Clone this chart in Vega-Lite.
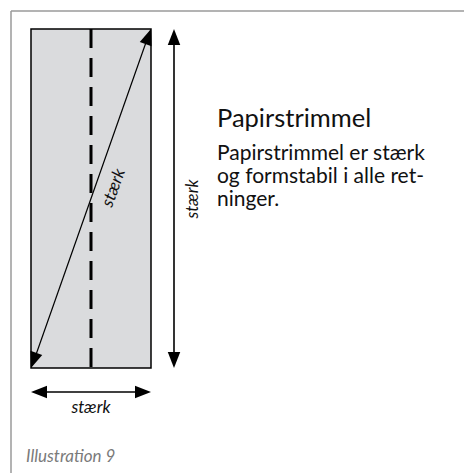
{
  "$schema": "https://vega.github.io/schema/vega-lite/v6.json",
  "width": 464,
  "height": 473,
  "padding": 0,
  "autosize": {"type": "none"},
  "background": "white",
  "config": {"view": {"stroke": null}},
  "datasets": {
    "frame": [
      {"x": 11, "y": 11, "x2": 464, "y2": 11},
      {"x": 11, "y": 11, "x2": 11, "y2": 473}
    ],
    "strip": [{"x": 31, "y": 29, "x2": 151, "y2": 368}],
    "fold": [{"x": 91, "y": 29, "x2": 91, "y2": 368}],
    "shafts": [
      {"x": 32, "y": 366, "x2": 150, "y2": 31, "w": "thin"},
      {"x": 174, "y": 40, "x2": 174, "y2": 357, "w": "thick"},
      {"x": 42, "y": 392, "x2": 140, "y2": 392, "w": "thick"}
    ],
    "heads": [
      {"x": 151, "y": 29, "dir": "diag-up"},
      {"x": 31, "y": 368, "dir": "diag-down"},
      {"x": 174, "y": 29, "dir": "up"},
      {"x": 174, "y": 368, "dir": "down"},
      {"x": 31, "y": 392, "dir": "left"},
      {"x": 151, "y": 392, "dir": "right"}
    ],
    "heading": [{"x": 217, "y": 127, "text": "Papirstrimmel"}],
    "body": [
      {"x": 217, "y": 160, "text": "Papirstrimmel er stærk"},
      {"x": 217, "y": 183, "text": "og formstabil i alle ret-"},
      {"x": 217, "y": 206, "text": "ninger."}
    ],
    "labels": [
      {"x": 118.5, "y": 189.5, "text": "stærk", "dir": "diag"},
      {"x": 198, "y": 199, "text": "stærk", "dir": "vert"},
      {"x": 91, "y": 413, "text": "stærk", "dir": "horiz"}
    ],
    "caption": [{"x": 26, "y": 461.5, "text": "Illustration 9"}]
  },
  "encoding": {
    "x": {"field": "x", "type": "quantitative", "scale": {"domain": [0, 464], "nice": false, "zero": false}, "axis": null},
    "y": {"field": "y", "type": "quantitative", "scale": {"domain": [0, 473], "nice": false, "zero": false, "reverse": true}, "axis": null}
  },
  "layer": [
    {
      "data": {"name": "frame"},
      "mark": {"type": "rule", "color": "#9a9a9a", "strokeWidth": 1.5},
      "encoding": {"x2": {"field": "x2"}, "y2": {"field": "y2"}}
    },
    {
      "data": {"name": "strip"},
      "mark": {"type": "rect", "fill": "#dadbdd", "stroke": "#000000", "strokeWidth": 1.5},
      "encoding": {"x2": {"field": "x2"}, "y2": {"field": "y2"}}
    },
    {
      "data": {"name": "fold"},
      "mark": {"type": "rule", "color": "#000000", "strokeWidth": 3, "strokeDash": [19, 10]},
      "encoding": {"x2": {"field": "x2"}, "y2": {"field": "y2"}}
    },
    {
      "data": {"name": "shafts"},
      "mark": {"type": "rule", "color": "#000000"},
      "encoding": {
        "x2": {"field": "x2"},
        "y2": {"field": "y2"},
        "strokeWidth": {"field": "w", "type": "nominal", "scale": {"type": "ordinal", "domain": ["thin", "thick"], "range": [1.2, 1.6]}, "legend": null}
      }
    },
    {
      "data": {"name": "heads"},
      "mark": {"type": "point", "shape": "M0,0L-0.39,1L0.39,1Z", "filled": true, "color": "#000000", "opacity": 1, "size": 1024, "strokeWidth": 0},
      "encoding": {
        "angle": {"field": "dir", "type": "nominal", "scale": {"type": "ordinal", "domain": ["up", "right", "down", "left", "diag-up", "diag-down"], "range": [0, 90, 180, 270, 19.5, 199.5]}, "legend": null}
      }
    },
    {
      "data": {"name": "heading"},
      "mark": {"type": "text", "font": "Lato", "fontSize": 25.5, "align": "left", "baseline": "alphabetic", "color": "#111111"},
      "encoding": {"text": {"field": "text"}}
    },
    {
      "data": {"name": "body"},
      "mark": {"type": "text", "font": "Lato", "fontSize": 21, "align": "left", "baseline": "alphabetic", "color": "#111111"},
      "encoding": {"text": {"field": "text"}}
    },
    {
      "data": {"name": "labels"},
      "transform": [{"filter": "datum.dir === 'horiz'"}],
      "mark": {"type": "text", "font": "Lato", "fontSize": 17, "fontStyle": "italic", "align": "center", "baseline": "alphabetic", "color": "#111111", "angle": 0},
      "encoding": {"text": {"field": "text"}}
    },
    {
      "data": {"name": "labels"},
      "transform": [{"filter": "datum.dir === 'vert'"}],
      "mark": {"type": "text", "font": "Lato", "fontSize": 17, "fontStyle": "italic", "align": "center", "baseline": "alphabetic", "color": "#111111", "angle": 270},
      "encoding": {"text": {"field": "text"}}
    },
    {
      "data": {"name": "labels"},
      "transform": [{"filter": "datum.dir === 'diag'"}],
      "mark": {"type": "text", "font": "Lato", "fontSize": 17, "fontStyle": "italic", "align": "center", "baseline": "alphabetic", "color": "#111111", "angle": 290},
      "encoding": {"text": {"field": "text"}}
    },
    {
      "data": {"name": "caption"},
      "mark": {"type": "text", "font": "Lato", "fontSize": 17, "fontStyle": "italic", "align": "left", "baseline": "alphabetic", "color": "#7a7a7a"},
      "encoding": {"text": {"field": "text"}}
    }
  ]
}
